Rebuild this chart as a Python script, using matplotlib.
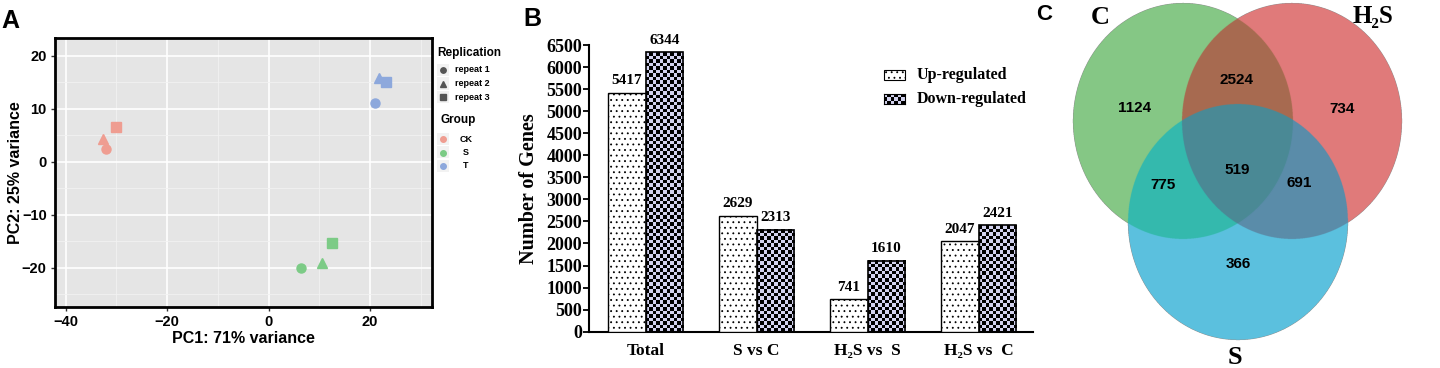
import numpy as np
import matplotlib
matplotlib.use("Agg")
import matplotlib.pyplot as plt
from matplotlib.colors import ListedColormap
from matplotlib.lines import Line2D
from matplotlib.patches import Rectangle

# ---- data ----
# panel A: PCA scores
pca_group = ["CK", "CK", "CK", "S", "S", "S", "T", "T", "T"]
pca_rep = ["repeat 1", "repeat 2", "repeat 3"] * 3
pc1 = [-32.0, -32.6, -30.0, 6.3, 10.5, 12.5, 20.9, 21.8, 23.2]
pc2 = [2.3, 4.2, 6.6, -20.1, -19.1, -15.3, 11.0, 15.8, 15.1]

# panel B: DEG counts
categories = ["Total", "S vs C", "H\u2082S vs  S", "H\u2082S vs  C"]
up_counts = [5417, 2629, 741, 2047]
down_counts = [6344, 2313, 1610, 2421]

# panel C: venn region counts
venn_regions = ["C", "H", "S", "CH", "CS", "HS", "CHS"]
venn_counts = [1124, 734, 366, 2524, 775, 691, 519]

W, H = 1440, 368
fig = plt.figure(figsize=(W / 100, H / 100), dpi=100)
SANS = ["Liberation Sans", "DejaVu Sans"]
SERIF = ["Liberation Serif", "DejaVu Serif"]


def fx(x):
    return x / W


def fy(y):
    return 1 - y / H


def box(l, t, r, b):
    return [fx(l), fy(b), fx(r) - fx(l), fy(t) - fy(b)]


# ================= Panel A =================
axA = fig.add_axes(box(55, 38, 432, 307))
axA.set_facecolor("#E5E5E5")
grp_col = {"CK": "#EF9D91", "S": "#7CCB86", "T": "#8DA8DC"}
rep_mk = {"repeat 1": ("o", 6.5), "repeat 2": ("^", 7.5), "repeat 3": ("s", 6.5)}
for g, r, x, y in zip(pca_group, pca_rep, pc1, pc2):
    m, s = rep_mk[r]
    axA.plot(x, y, marker=m, ms=s, color=grp_col[g], ls="none", zorder=3)

axA.set_xlim(-42.1, 32.2)
axA.set_ylim(-27.4, 23.3)
axA.set_xticks([-40, -20, 0, 20])
axA.set_yticks([-20, -10, 0, 10, 20])
axA.set_xticks([-30, -10, 10, 30], minor=True)
axA.set_yticks([-25, -15, -5, 5, 15], minor=True)
axA.grid(which="major", color="white", lw=1.2)
axA.grid(which="minor", color="#F2F2F2", lw=0.6)
axA.set_axisbelow(True)
axA.tick_params(which="minor", length=0)
axA.tick_params(which="major", length=3, width=1, color="#333333", pad=3)
for lab in axA.get_xticklabels() + axA.get_yticklabels():
    lab.set_family(SANS)
    lab.set_fontweight("bold")
    lab.set_fontsize(10.5)
for sp in axA.spines.values():
    sp.set_linewidth(2)
    sp.set_color("black")
axA.set_xlabel("PC1: 71% variance", fontsize=11.5, fontweight="bold", family=SANS)
axA.set_ylabel("PC2: 25% variance", fontsize=11.5, fontweight="bold", family=SANS)
axA.xaxis.set_label_coords(0.5, -0.089)
axA.yaxis.set_label_coords(-0.085, 0.5)

# legend A (manual)
fig.text(fx(437), fy(53), "Replication", fontsize=8.5, fontweight="bold",
         family=SANS, va="center", ha="left")
for i, r in enumerate(["repeat 1", "repeat 2", "repeat 3"]):
    yy = 70 + i * 13.5
    fig.add_artist(Rectangle((fx(437), fy(yy + 6)), fx(12), 12 / H,
                             transform=fig.transFigure, color="#F2F2F2", lw=0))
    m, s = rep_mk[r]
    fig.add_artist(Line2D([fx(443)], [fy(yy)], marker=m, ms=s * 0.6,
                          color="#555555", transform=fig.transFigure))
    fig.text(fx(455), fy(yy), r, fontsize=6.5, fontweight="bold", family=SANS,
             va="center", ha="left")
fig.text(fx(440), fy(120), "Group", fontsize=8.5, fontweight="bold",
         family=SANS, va="center", ha="left")
for i, g in enumerate(["CK", "S", "T"]):
    yy = 139 + i * 13.5
    fig.add_artist(Rectangle((fx(437), fy(yy + 6)), fx(12), 12 / H,
                             transform=fig.transFigure, color="#F2F2F2", lw=0))
    fig.add_artist(Line2D([fx(443)], [fy(yy)], marker="o", ms=4,
                          color=grp_col[g], transform=fig.transFigure))
    fig.text(fx(466), fy(yy), g, fontsize=6.5, fontweight="bold", family=SANS,
             va="center", ha="center")

# ================= Panel B =================
plt.rcParams["hatch.linewidth"] = 0.6
axB = fig.add_axes(box(589, 45, 1033, 331.7))
x = np.arange(len(categories))
w = 0.337
up_bars = axB.bar(x - w / 2, up_counts, w, facecolor="white", edgecolor="black",
                  hatch="...", lw=1, zorder=3)
down_bars = axB.bar(x + w / 2, down_counts, w, facecolor="none", edgecolor="black",
                    lw=1.2, zorder=4)
checker_cmap = ListedColormap(["#D2D2EE", "#000000"])
for b in down_bars:
    h = b.get_height()
    nr = max(1, int(round(h / 80)))
    chk = np.add.outer(np.arange(nr), np.arange(11)) % 2
    axB.imshow(chk, extent=(b.get_x(), b.get_x() + b.get_width(), 0, h),
               aspect="auto", interpolation="nearest", origin="lower",
               cmap=checker_cmap, zorder=2)
for b, v in zip(list(up_bars) + list(down_bars), up_counts + down_counts):
    axB.text(b.get_x() + b.get_width() / 2, v + 120, str(v), ha="center",
             va="bottom", fontsize=11, fontweight="bold", family=SERIF,
             clip_on=False)

axB.set_xlim(-0.51, 3.49)
axB.set_ylim(0, 6500)
axB.set_yticks(np.arange(0, 6501, 500))
axB.set_xticks(x)
axB.set_xticklabels(categories)
axB.spines["top"].set_visible(False)
axB.spines["right"].set_visible(False)
axB.spines["left"].set_linewidth(1.5)
axB.spines["bottom"].set_linewidth(1.5)
axB.tick_params(axis="y", length=4, width=1.3, pad=1)
axB.tick_params(axis="x", length=0, pad=8)
for lab in axB.get_yticklabels():
    lab.set_family(SERIF)
    lab.set_fontweight("bold")
    lab.set_fontsize(13)
for lab in axB.get_xticklabels():
    lab.set_family(SERIF)
    lab.set_fontweight("bold")
    lab.set_fontsize(12.5)
axB.set_ylabel("Number of Genes", fontsize=14.5, fontweight="bold", family=SERIF)
axB.yaxis.set_label_coords(-0.112, 0.5)

# legend B (manual)
fig.add_artist(Rectangle((fx(884), fy(80)), fx(21), 10 / H, transform=fig.transFigure,
                         facecolor="white", edgecolor="black", hatch="...", lw=0.8))
legax = fig.add_axes(box(884, 94, 905, 104))
legax.imshow(np.add.outer(np.arange(3), np.arange(6)) % 2, cmap=checker_cmap,
             aspect="auto", interpolation="nearest")
legax.set_xticks([])
legax.set_yticks([])
for sp in legax.spines.values():
    sp.set_linewidth(0.8)
fig.text(fx(917), fy(75), "Up-regulated", fontsize=11.5, fontweight="bold",
         family=SERIF, va="center")
fig.text(fx(917), fy(99), "Down-regulated", fontsize=11.5, fontweight="bold",
         family=SERIF, va="center")

# ================= Panel C (venn) =================
axC = fig.add_axes(box(1040, 0, 1440, 368))
axC.set_xlim(1040, 1440)
axC.set_ylim(368, 0)
axC.axis("off")
centers = {"C": (1183, 121), "H": (1292, 121), "S": (1238, 222)}
rx, ry = 110, 118
region_colors = {"C": "#85C785", "H": "#E07A7A", "S": "#5BC1DF",
                 "CH": "#A76B50", "CS": "#34B9AD", "HS": "#5A8CA9", "CHS": "#4A8996"}
gx, gy = np.meshgrid(np.linspace(1040, 1440, 1600), np.linspace(0, 368, 1472))
inside = {k: ((gx - c[0]) / rx) ** 2 + ((gy - c[1]) / ry) ** 2 <= 1
          for k, c in centers.items()}
img = np.zeros(gx.shape + (4,))
for key, col in region_colors.items():
    mask = np.ones(gx.shape, bool)
    for k in "CHS":
        mask &= inside[k] if k in key else ~inside[k]
    img[mask] = matplotlib.colors.to_rgba(col)
axC.imshow(img, extent=(1040, 1440, 368, 0), origin="upper", aspect="auto",
           interpolation="antialiased")
venn_pos = {"C": (1135, 108), "H": (1342, 109), "S": (1238, 264),
            "CH": (1237, 80), "CS": (1163, 185), "HS": (1299, 183), "CHS": (1237, 170)}
for key, n in zip(venn_regions, venn_counts):
    px, py = venn_pos[key]
    axC.text(px, py, str(n), ha="center", va="center", fontsize=11,
             fontweight="bold", family=SANS)
axC.text(1100, 18, "C", ha="center", va="center", fontsize=19, fontweight="bold",
         family=SERIF)
axC.text(1373, 16, "H\u2082S", ha="center", va="center", fontsize=18,
         fontweight="bold", family=SERIF)
axC.text(1235, 357, "S", ha="center", va="center", fontsize=19, fontweight="bold",
         family=SERIF)

# panel letters
fig.text(fx(10), fy(21), "A", fontsize=18, fontweight="bold", family=SANS,
         ha="center", va="center")
fig.text(fx(532), fy(19), "B", fontsize=18, fontweight="bold", family=SANS,
         ha="center", va="center")
fig.text(fx(1044), fy(15), "C", fontsize=16, fontweight="bold", family=SANS,
         ha="center", va="center")

fig.savefig("out.png", dpi=100)
